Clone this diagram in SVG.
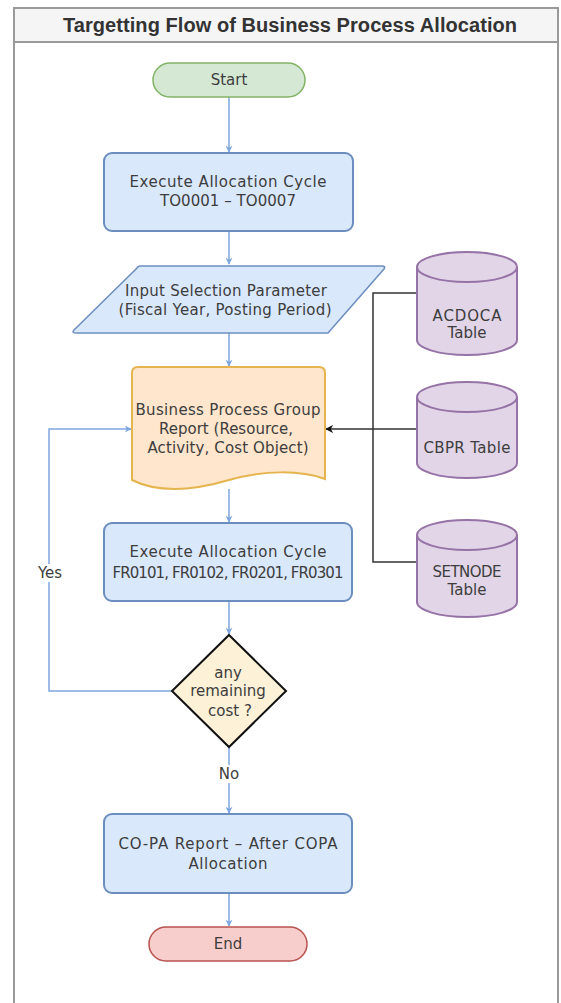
<svg xmlns="http://www.w3.org/2000/svg" width="561" height="1003" viewBox="0 0 561 1003">
  <style>
    .lbl { font-family: "DejaVu Sans", "Open Sans", sans-serif; font-size: 15px; fill: #3d3d3d; text-anchor: middle; dominant-baseline: central; }
    .title { font-family: "Liberation Sans", Arial, sans-serif; font-size: 20px; font-weight: bold; fill: #333333; text-anchor: middle; }
    .proc { fill: #dae8fc; stroke: #6c8ebf; stroke-width: 2; }
    .flow { fill: none; stroke: #7ea6e0; stroke-width: 1.5; }
    .bus { fill: none; stroke: #333333; stroke-width: 1.5; }
    .db { fill: #e1d5e7; stroke: #9673a6; stroke-width: 2; }
  </style>
  <defs>
    <marker id="arrBlue" viewBox="0 0 10 10" refX="9" refY="5" markerWidth="7" markerHeight="7" markerUnits="userSpaceOnUse" orient="auto">
      <path d="M0,0 L10,5 L0,10 L3,5 z" fill="#7ea6e0"/>
    </marker>
    <marker id="arrBlack" viewBox="0 0 10 10" refX="9" refY="5" markerWidth="8" markerHeight="8" markerUnits="userSpaceOnUse" orient="auto">
      <path d="M0,0 L10,5 L0,10 L3,5 z" fill="#111111"/>
    </marker>
  </defs>

  <!-- page -->
  <rect width="561" height="1003" fill="#ffffff"/>

  <!-- swimlane frame with title bar -->
  <g id="frame">
    <rect x="14" y="8" width="544" height="1000" fill="#ffffff" stroke="#9a9a9a" stroke-width="2"/>
    <rect x="14" y="8" width="544" height="34" fill="#f5f5f5" stroke="#9a9a9a" stroke-width="2"/>
    <text class="title" x="290" y="32" textLength="454" lengthAdjust="spacing">Targetting Flow of Business Process Allocation</text>
  </g>

  <!-- connectors -->
  <g id="connectors">
    <line class="flow" x1="229" y1="97" x2="229" y2="152" marker-end="url(#arrBlue)"/>
    <line class="flow" x1="229" y1="231" x2="229" y2="264" marker-end="url(#arrBlue)"/>
    <line class="flow" x1="229" y1="333" x2="229" y2="366" marker-end="url(#arrBlue)"/>
    <line class="flow" x1="229" y1="489" x2="229" y2="522" marker-end="url(#arrBlue)"/>
    <line class="flow" x1="229" y1="601" x2="229" y2="634" marker-end="url(#arrBlue)"/>
    <line class="flow" x1="229" y1="747" x2="229" y2="813" marker-end="url(#arrBlue)"/>
    <line class="flow" x1="229" y1="893" x2="229" y2="926" marker-end="url(#arrBlue)"/>
    <polyline class="flow" points="172,691 49,691 49,429 131,429" marker-end="url(#arrBlue)"/>
    <!-- table feeds -->
    <polyline class="bus" points="417,293 373,293 373,562 417,562"/>
    <line class="bus" x1="417" y1="429" x2="326" y2="429" marker-end="url(#arrBlack)"/>
    <!-- edge labels -->
    <rect x="35" y="564" width="30" height="18" fill="#ffffff"/>
    <text class="lbl" x="50" y="573">Yes</text>
    <rect x="216" y="765" width="26" height="18" fill="#ffffff"/>
    <text class="lbl" x="229" y="774">No</text>
  </g>

  <g id="start">
    <rect x="153" y="63" width="152" height="34" rx="17" fill="#d5e8d4" stroke="#82b366" stroke-width="1.5"/>
    <text class="lbl" x="229" y="80">Start</text>
  </g>

  <g id="cycle-to">
    <rect class="proc" x="104" y="153" width="249" height="78" rx="8"/>
    <text class="lbl" x="228" y="182" textLength="197" lengthAdjust="spacing">Execute Allocation Cycle</text>
    <text class="lbl" x="228" y="201" textLength="136" lengthAdjust="spacing">TO0001 – TO0007</text>
  </g>

  <g id="input-params">
    <path d="M140,266 L382,266 Q386,266 384,269 L328,333 L77,333 Q71,333 74,330 L136,269 Q138,266 140,266 Z" fill="#dae8fc" stroke="#6c8ebf" stroke-width="1.5"/>
    <text class="lbl" x="226" y="291" textLength="202" lengthAdjust="spacing">Input Selection Parameter</text>
    <text class="lbl" x="225" y="310" textLength="213" lengthAdjust="spacing">(Fiscal Year, Posting Period)</text>
  </g>

  <g id="bp-report">
    <path d="M138,367 L319,367 Q325,367 325,373 L325,479 C300,470 265,470 229,480 C195,490 160,494 132,480 L132,373 Q132,367 138,367 Z" fill="#ffe6cc" stroke="#e6b44f" stroke-width="2"/>
    <text class="lbl" x="228" y="410" textLength="185" lengthAdjust="spacing">Business Process Group</text>
    <text class="lbl" x="226" y="429" textLength="134" lengthAdjust="spacing">Report (Resource,</text>
    <text class="lbl" x="228" y="448" textLength="161" lengthAdjust="spacing">Activity, Cost Object)</text>
  </g>

  <g id="cycle-fr">
    <rect class="proc" x="104" y="523" width="248" height="78" rx="8"/>
    <text class="lbl" x="228" y="552" textLength="197" lengthAdjust="spacing">Execute Allocation Cycle</text>
    <text class="lbl" x="228" y="573" textLength="231" lengthAdjust="spacing">FR0101, FR0102, FR0201, FR0301</text>
  </g>

  <g id="decision">
    <polygon points="229,635 286,691 229,747 172,691" fill="#fdf1d8" stroke="#111111" stroke-width="2"/>
    <text class="lbl" x="228" y="673">any</text>
    <text class="lbl" x="228" y="691">remaining</text>
    <text class="lbl" x="230" y="711">cost ?</text>
  </g>

  <g id="copa-report">
    <rect class="proc" x="104" y="814" width="248" height="79" rx="8"/>
    <text class="lbl" x="228" y="844" textLength="219" lengthAdjust="spacing">CO-PA Report – After COPA</text>
    <text class="lbl" x="228" y="864" textLength="79" lengthAdjust="spacing">Allocation</text>
  </g>

  <g id="end">
    <rect x="149" y="927" width="158" height="34" rx="17" fill="#f8cecc" stroke="#b85450" stroke-width="1.5"/>
    <text class="lbl" x="228" y="944">End</text>
  </g>

  <g id="acdoca">
    <path class="db" d="M417,267 A50,15 0 0 1 517,267 L517,340 A50,15 0 0 1 417,340 Z"/>
    <path d="M417,267 A50,15 0 0 0 517,267" fill="none" stroke="#9673a6" stroke-width="2"/>
    <text class="lbl" x="467" y="316" textLength="69" lengthAdjust="spacing">ACDOCA</text>
    <text class="lbl" x="467" y="333">Table</text>
  </g>

  <g id="cbpr">
    <path class="db" d="M417,397 A50,15 0 0 1 517,397 L517,463 A50,15 0 0 1 417,463 Z"/>
    <path d="M417,397 A50,15 0 0 0 517,397" fill="none" stroke="#9673a6" stroke-width="2"/>
    <text class="lbl" x="467" y="448" textLength="87" lengthAdjust="spacing">CBPR Table</text>
  </g>

  <g id="setnode">
    <path class="db" d="M417,535 A50,15 0 0 1 517,535 L517,602 A50,15 0 0 1 417,602 Z"/>
    <path d="M417,535 A50,15 0 0 0 517,535" fill="none" stroke="#9673a6" stroke-width="2"/>
    <text class="lbl" x="467" y="572" textLength="69" lengthAdjust="spacing">SETNODE</text>
    <text class="lbl" x="467" y="590">Table</text>
  </g>
</svg>
